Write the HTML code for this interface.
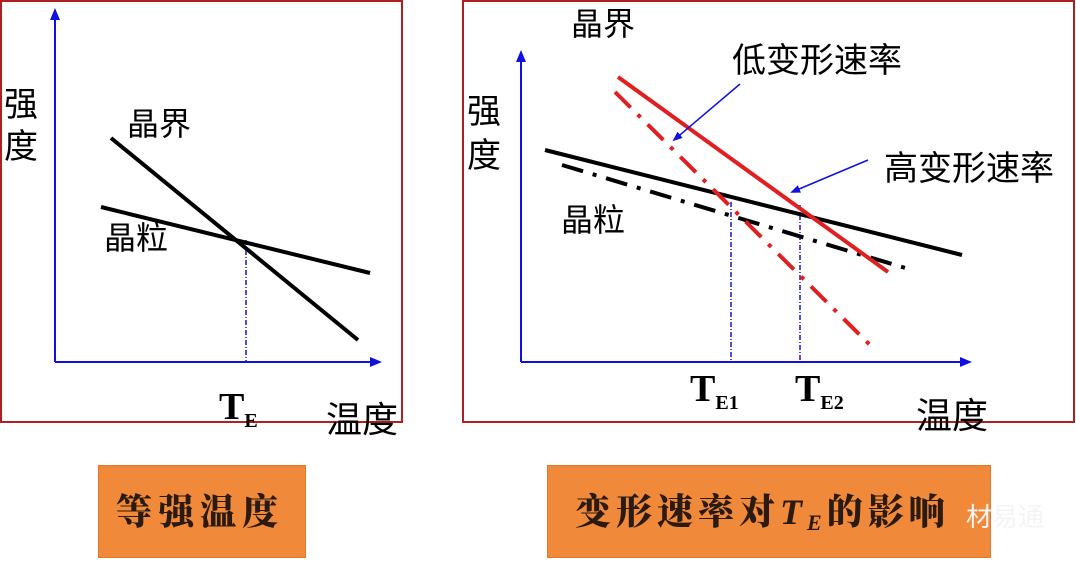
<!DOCTYPE html>
<html><head><meta charset="utf-8"><style>
body{margin:0;background:#fff;width:1076px;height:566px;overflow:hidden;position:relative;font-family:"Liberation Sans","Noto Sans CJK SC",sans-serif}
.t{position:absolute;white-space:nowrap;color:#000;line-height:1}
.s{font-size:20px;position:relative;top:8px}
.box{position:absolute;background:#f08a3a;border:1px solid #e07a2a}
.cap{font-family:"Noto Serif CJK SC","Liberation Serif",serif;font-weight:900;font-size:36px;color:#2a1a10;letter-spacing:6px}
</style></head><body>
<svg width="1076" height="566" style="position:absolute;left:0;top:0">
<defs><marker id="a" markerWidth="10" markerHeight="10" refX="8" refY="5" orient="auto" markerUnits="userSpaceOnUse"><path d="M0,1 L10,5 L0,9 Z" fill="#1010e0"/></marker>
<marker id="b" markerWidth="12" markerHeight="12" refX="10" refY="6" orient="auto" markerUnits="userSpaceOnUse"><path d="M0,1 L12,6 L0,11 Z" fill="#1010e0"/></marker></defs>
<rect x="1" y="1" width="401" height="421" fill="none" stroke="#b02020" stroke-width="2"/>
<rect x="463" y="1" width="611" height="421" fill="none" stroke="#b02020" stroke-width="2"/>
<line x1="55" y1="362" x2="55" y2="10" stroke="#1010e0" stroke-width="2" marker-end="url(#b)"/>
<line x1="55" y1="362" x2="380" y2="362" stroke="#1010e0" stroke-width="2" marker-end="url(#b)"/>
<line x1="246" y1="240" x2="246" y2="362" stroke="#1010e0" stroke-width="1.5" stroke-dasharray="5,2,1,2"/>
<line x1="111" y1="138" x2="358" y2="340" stroke="#000" stroke-width="4"/>
<line x1="101" y1="207" x2="370" y2="273" stroke="#000" stroke-width="4"/>
<line x1="521" y1="362" x2="521" y2="52" stroke="#1010e0" stroke-width="2" marker-end="url(#b)"/>
<line x1="521" y1="362" x2="970" y2="362" stroke="#1010e0" stroke-width="2" marker-end="url(#b)"/>
<line x1="731" y1="202" x2="731" y2="362" stroke="#1010e0" stroke-width="1.5" stroke-dasharray="5,2,1,2"/>
<line x1="800" y1="205" x2="800" y2="362" stroke="#1010e0" stroke-width="1.5" stroke-dasharray="5,2,1,2"/>
<line x1="545" y1="150" x2="962" y2="255" stroke="#000" stroke-width="4"/>
<line x1="562" y1="165" x2="912" y2="270" stroke="#000" stroke-width="4" stroke-dasharray="22,10,4,10"/>
<line x1="618" y1="77" x2="888" y2="272" stroke="#e02020" stroke-width="4"/>
<line x1="615" y1="92" x2="870" y2="345" stroke="#e02020" stroke-width="4" stroke-dasharray="22,10,4,10"/>
<line x1="740" y1="84" x2="674" y2="140" stroke="#1010e0" stroke-width="1.5" marker-end="url(#a)"/>
<line x1="868" y1="160" x2="792" y2="192" stroke="#1010e0" stroke-width="1.5" marker-end="url(#a)"/>
</svg>
<div class="t" style="left:4px;top:84px;font-size:34px;line-height:42px">强<br>度</div>
<div class="t" style="left:127px;top:108px;font-size:32px">晶界</div>
<div class="t" style="left:104px;top:222px;font-size:32px">晶粒</div>
<div class="t" style="left:219px;top:388px;font-size:38px;font-family:'Liberation Serif',serif;font-weight:bold">T<span class="s">E</span></div>
<div class="t" style="left:326px;top:402px;font-size:36px">温度</div>
<div class="t" style="left:467px;top:90px;font-size:34px;line-height:44px">强<br>度</div>
<div class="t" style="left:571px;top:8px;font-size:32px">晶界</div>
<div class="t" style="left:732px;top:44px;font-size:34px">低变形速率</div>
<div class="t" style="left:884px;top:152px;font-size:34px">高变形速率</div>
<div class="t" style="left:561px;top:204px;font-size:32px">晶粒</div>
<div class="t" style="left:690px;top:370px;font-size:38px;font-family:'Liberation Serif',serif;font-weight:bold">T<span class="s">E1</span></div>
<div class="t" style="left:795px;top:370px;font-size:38px;font-family:'Liberation Serif',serif;font-weight:bold">T<span class="s">E2</span></div>
<div class="t" style="left:916px;top:398px;font-size:36px">温度</div>
<div class="box" style="left:98px;top:465px;width:206px;height:91px"></div>
<div class="t cap" style="left:116px;top:492px">等强温度</div>
<div class="box" style="left:547px;top:465px;width:442px;height:91px"></div>
<div class="t cap" style="left:575px;top:492px;letter-spacing:5px">变形速率对<i style="font-family:'Liberation Serif',serif">T<span style="font-size:22px;position:relative;top:6px">E</span></i>的影响</div>
<div class="t" style="left:966px;top:504px;font-size:26px;color:#f4f4f4">材易通</div>
</body></html>
